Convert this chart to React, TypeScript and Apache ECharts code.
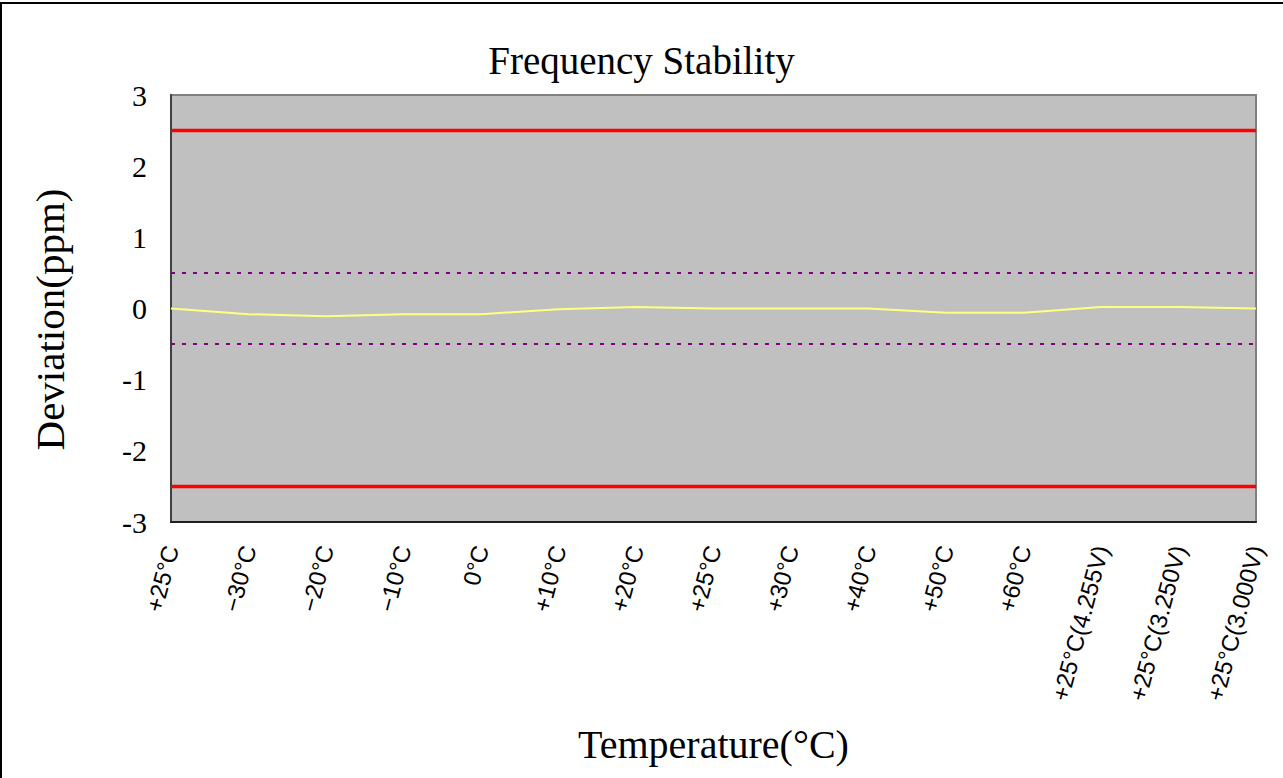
import React, { useEffect, useRef } from "react";
import * as echarts from "echarts";

const categories = [
  "+25°C", "−30°C", "−20°C", "−10°C", "0°C", "+10°C", "+20°C", "+25°C",
  "+30°C", "+40°C", "+50°C", "+60°C", "+25°C(4.255V)", "+25°C(3.250V)", "+25°C(3.000V)",
];
const deviation = [0, -0.08, -0.11, -0.08, -0.08, -0.01, 0.02, 0, 0, 0, -0.06, -0.06, 0.02, 0.02, 0];
const upperLimit = categories.map(() => 2.5);
const lowerLimit = categories.map(() => -2.5);
const upperSpec = categories.map(() => 0.5);
const lowerSpec = categories.map(() => -0.5);

export default function App() {
  const ref = useRef<HTMLDivElement>(null);
  useEffect(() => {
    document.body.style.margin = "0";
    const chart = echarts.init(ref.current!, null, { renderer: "svg" });
    const serif = "'Liberation Serif', 'Times New Roman', serif";
    const sans = "'Liberation Sans', Arial, sans-serif";
    const line = (data: number[], color: string, width: number, type: any = "solid", z = 2) => ({
      type: "line",
      data,
      symbol: "none",
      silent: true,
      z,
      lineStyle: { color, width, type },
    });
    chart.setOption({
      animation: false,
      backgroundColor: "#ffffff",
      title: {
        text: "Frequency Stability",
        left: "center",
        top: 36,
        textStyle: { fontFamily: serif, fontSize: 39, fontWeight: "normal", color: "#000" },
      },
      grid: { left: 171, right: 27, top: 95, bottom: 256, backgroundColor: "#C0C0C0", show: true, borderColor: "#808080", borderWidth: 2 },
      xAxis: {
        type: "category",
        data: categories,
        boundaryGap: false,
        name: "Temperature(°C)",
        nameLocation: "middle",
        nameGap: 202,
        nameTextStyle: { fontFamily: serif, fontSize: 40, color: "#000" },
        axisLine: { onZero: false, lineStyle: { color: "#202020", width: 2 } },
        axisTick: { show: false },
        axisLabel: { interval: 0, rotate: 75, margin: 24, fontFamily: sans, fontSize: 24, color: "#000" },
        splitLine: { show: false },
      },
      yAxis: {
        type: "value",
        min: -3,
        max: 3,
        interval: 1,
        name: "Deviation(ppm)",
        nameLocation: "middle",
        nameGap: 101,
        nameTextStyle: { fontFamily: serif, fontSize: 41, color: "#000", padding: [0, 22, 0, 0] },
        axisLine: { show: true, lineStyle: { color: "#404040", width: 2 } },
        axisTick: { show: false },
        axisLabel: { margin: 24, fontFamily: serif, fontSize: 30, color: "#000" },
        splitLine: { show: false },
      },
      graphic: [
        { type: "line", shape: { x1: 1, y1: 3, x2: 1, y2: 778 }, style: { stroke: "#000", lineWidth: 2 } },
        { type: "line", shape: { x1: 0, y1: 3, x2: 1283, y2: 3 }, style: { stroke: "#000", lineWidth: 2 } },
      ],
      series: [
        line(upperLimit, "#FF0000", 3.5),
        line(lowerLimit, "#FF0000", 3.5),
        line(upperSpec, "#800080", 2, [4, 7]),
        line(lowerSpec, "#800080", 2, [4, 7]),
        line(deviation, "#FFFF80", 2, "solid", 3),
      ],
    });
    return () => chart.dispose();
  }, []);
  return <div ref={ref} style={{ position: "fixed", left: 0, top: 0, width: 1283, height: 778 }} />;
}
